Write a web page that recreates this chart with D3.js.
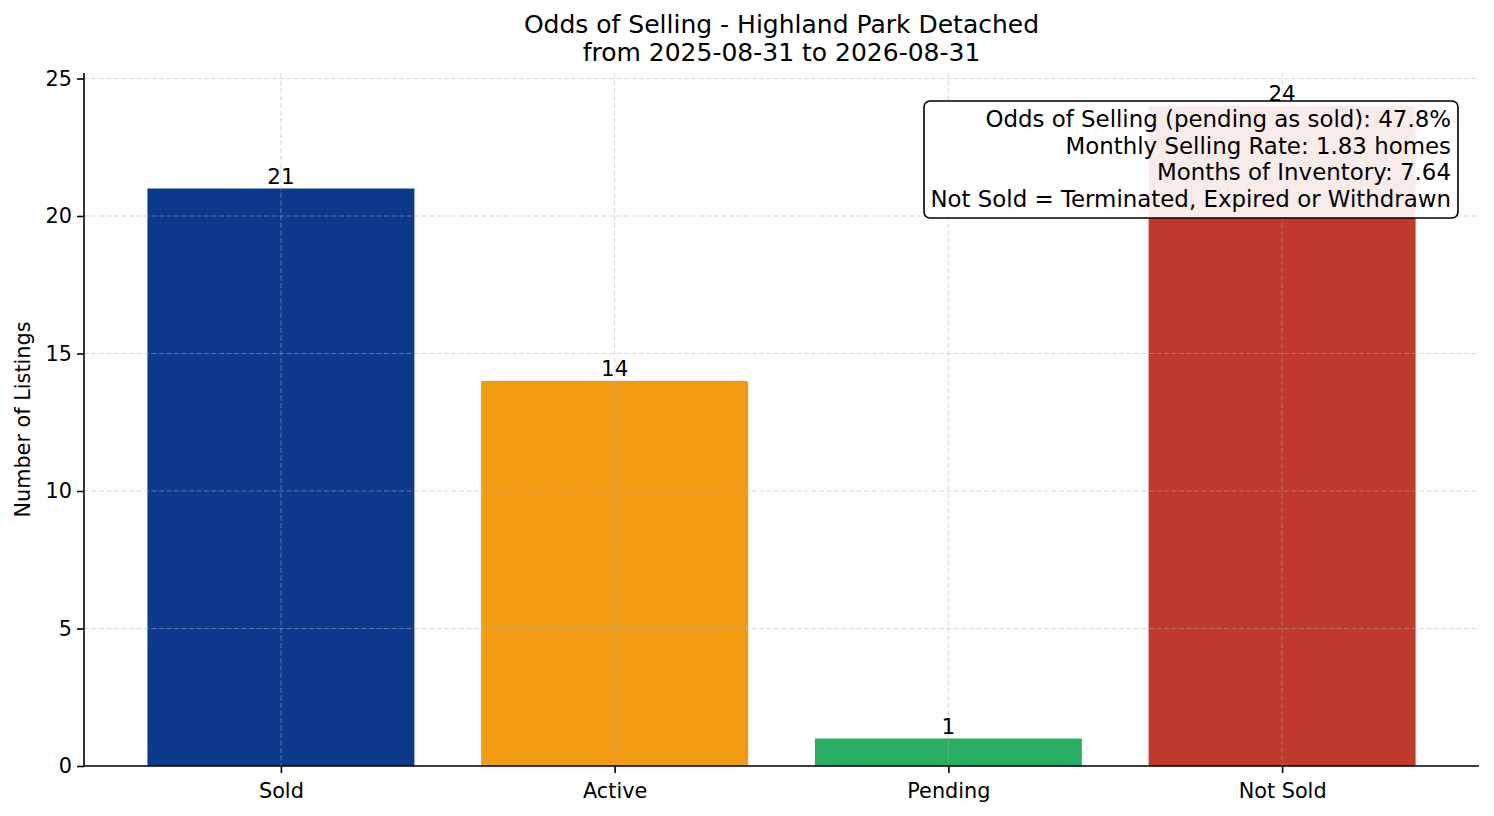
<!DOCTYPE html>
<html><head><meta charset="utf-8">
<script src="https://cdn.jsdelivr.net/npm/d3@7"></script>
<style>body{margin:0;background:#fff}svg{display:block;font-family:"DejaVu Sans",sans-serif}</style>
</head><body>
<svg id="c" width="1494" height="816"></svg>
<script>
const categories = ["Sold", "Active", "Pending", "Not Sold"];
const values = [21, 14, 1, 24];
const colors = ["#0b3a8d", "#f39c13", "#27ae60", "#c0392b"];
const yTicks = [0, 5, 10, 15, 20, 25];
const titleLines = ["Odds of Selling - Highland Park Detached", "from 2025-08-31 to 2026-08-31"];
const yLabel = "Number of Listings";
const infoLines = [
  "Odds of Selling (pending as sold): 47.8%",
  "Monthly Selling Rate: 1.83 homes",
  "Months of Inventory: 7.64",
  "Not Sold = Terminated, Expired or Withdrawn"
];

const svg = d3.select("#c");
const L = 84, R = 1479, T = 73, B = 766;
const x = d3.scaleLinear().domain([-0.59, 3.59]).range([L, R]);
const y = d3.scaleLinear().domain([0, 25.2]).range([B, T]);
const bw = x(0.4) - x(-0.4);

// bars
svg.append("g").selectAll("rect").data(values).join("rect")
  .attr("x", (d, i) => x(i) - bw / 2).attr("width", bw)
  .attr("y", d => y(d)).attr("height", d => y(0) - y(d))
  .attr("fill", (d, i) => colors[i]);

// grid on top
const grid = svg.append("g").attr("stroke", "#b0b0b0").attr("stroke-opacity", 0.5)
  .attr("stroke-width", 1).attr("stroke-dasharray", "5,2.5");
grid.selectAll("line.h").data(yTicks).join("line").attr("class", "h")
  .attr("x1", L).attr("x2", R).attr("y1", d => y(d)).attr("y2", d => y(d));
grid.selectAll("line.v").data(categories).join("line").attr("class", "v")
  .attr("x1", (d, i) => x(i)).attr("x2", (d, i) => x(i)).attr("y1", T).attr("y2", B);

// value labels
svg.append("g").selectAll("text").data(values).join("text")
  .attr("x", (d, i) => x(i)).attr("y", d => y(d) - 5)
  .attr("text-anchor", "middle").attr("font-size", 21.5).attr("fill", "#000")
  .text(d => d);

// axes
const yAxis = d3.axisLeft(y).tickValues(yTicks).tickSize(7).tickPadding(5);
const gy = svg.append("g").attr("transform", `translate(${L},0)`).call(yAxis);
gy.select(".domain").attr("d", `M0,${T}V${B}`);
const xAxis = d3.axisBottom(x).tickValues(d3.range(categories.length)).tickFormat(i => categories[i]).tickSize(7).tickPadding(10);
const gx = svg.append("g").attr("transform", `translate(0,${B})`).call(xAxis);
gx.select(".domain").attr("d", `M${L},0H${R}`);
[gx, gy].forEach(g => {
  g.select(".domain").attr("stroke", "#000").attr("stroke-width", 1.6);
  g.selectAll(".tick line").attr("stroke", "#000").attr("stroke-width", 1.6);
  g.selectAll(".tick text").attr("font-size", 20.8).attr("fill", "#000").attr("font-family", "DejaVu Sans");
});

// y label
svg.append("text").attr("transform", `translate(30,${(T + B) / 2}) rotate(-90)`)
  .attr("text-anchor", "middle").attr("font-size", 20.8).attr("fill", "#000").text(yLabel);

// title
svg.append("g").selectAll("text").data(titleLines).join("text")
  .attr("x", (L + R) / 2).attr("y", (d, i) => 33 + i * 28)
  .attr("text-anchor", "middle").attr("font-size", 25).attr("fill", "#000").text(d => d);

// info box
const box = svg.append("g");
box.append("rect").attr("x", 924).attr("y", 101).attr("width", 534).attr("height", 117)
  .attr("rx", 6).attr("fill", "#fff").attr("fill-opacity", 0.9)
  .attr("stroke", "#000").attr("stroke-width", 1.6);
box.selectAll("text").data(infoLines).join("text")
  .attr("x", 1451).attr("y", (d, i) => 127 + i * 26.6)
  .attr("text-anchor", "end").attr("font-size", 22.9).attr("fill", "#000").text(d => d);
</script>
</body></html>
